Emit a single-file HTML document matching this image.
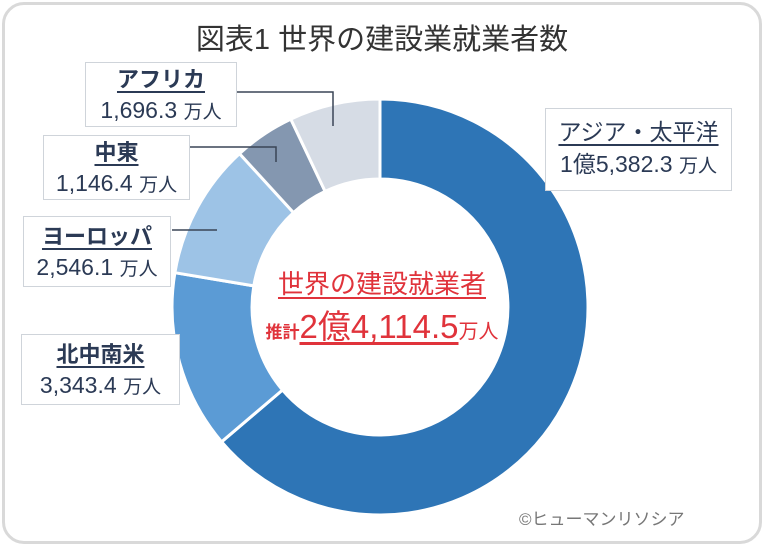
<!DOCTYPE html>
<html><head><meta charset="utf-8"><style>
html,body{margin:0;padding:0;background:#fff;}
body{width:764px;height:545px;overflow:hidden;position:relative;font-family:"Liberation Sans","Noto Sans CJK JP",sans-serif;}
.frame{position:absolute;left:2px;top:2px;width:754px;height:536px;border:3px solid #d9d9d9;border-radius:22px;}
.title{position:absolute;left:0;width:764px;top:16px;text-align:center;font-size:29px;color:#333;}
.box{position:absolute;background:#fff;border:1.5px solid #cfd4da;color:#2b3a55;text-align:center;box-sizing:border-box;}
.box .n{font-size:22px;font-weight:bold;text-decoration:underline;text-underline-offset:4px;line-height:30px;margin-top:2px;color:#2b3a55;}
.box .v{font-size:23px;line-height:30px;color:#2b3a55;}
.box .v span{font-size:19px;}
.ct{position:absolute;left:0;width:764px;text-align:center;color:#e0333b;}
.copy{position:absolute;left:519px;top:505px;font-size:17px;color:#777;}
</style></head><body>
<div class="frame"></div>
<div class="title">図表1 世界の建設業就業者数</div>
<svg width="764" height="545" style="position:absolute;left:0;top:0">
<g stroke="#fff" stroke-width="3" stroke-linejoin="round">
<path d="M380,99 A208,208 0 1 1 221.6,441.8 L282.5,390 A128,128 0 1 0 380,179 Z" fill="#2e75b6"/>
<path d="M221.6,441.8 A208,208 0 0 1 174.9,272.7 L253.8,285.9 A128,128 0 0 0 282.5,390 Z" fill="#5b9bd5"/>
<path d="M174.9,272.7 A208,208 0 0 1 239.5,153.6 L293.5,212.6 A128,128 0 0 0 253.8,285.9 Z" fill="#9dc3e6"/>
<path d="M239.5,153.6 A208,208 0 0 1 290.8,119.1 L325.1,191.4 A128,128 0 0 0 293.5,212.6 Z" fill="#8497b0"/>
<path d="M290.8,119.1 A208,208 0 0 1 380,99 L380,179 A128,128 0 0 0 325.1,191.4 Z" fill="#d6dce5"/>
</g>
<g stroke="#3a4556" stroke-width="1.5" fill="none">
<polyline points="237,92 333,92 333,126"/>
<polyline points="190,147 276,147 276,162"/>
<line x1="172" y1="230" x2="217" y2="230"/>
</g>
</svg>
<div class="box" style="left:85px;top:62px;width:152px;height:65px"><div class="n">アフリカ</div><div class="v">1,696.3 <span>万人</span></div></div>
<div class="box" style="left:43px;top:135px;width:147px;height:65px"><div class="n">中東</div><div class="v">1,146.4 <span>万人</span></div></div>
<div class="box" style="left:23px;top:216px;width:148px;height:71px"><div class="n" style="margin-top:5px">ヨーロッパ</div><div class="v">2,546.1 <span>万人</span></div></div>
<div class="box" style="left:21px;top:334px;width:159px;height:71px"><div class="n" style="margin-top:5px">北中南米</div><div class="v">3,343.4 <span>万人</span></div></div>
<div class="box" style="left:545px;top:108px;width:187px;height:83px"><div class="n" style="margin-top:8px;font-weight:normal;font-size:23px">アジア・太平洋</div><div class="v" style="margin-top:2px">1億5,382.3 <span>万人</span></div></div>
<div class="ct" style="top:264px;font-size:26px;"><span style="text-decoration:underline;text-underline-offset:4px;">世界の建設就業者</span></div>
<div class="ct" style="top:306px;font-size:33px;line-height:42px;"><span style="font-size:17px;font-weight:bold">推計</span><span style="text-decoration:underline;text-underline-offset:4px;">2億4,114.5</span><span style="font-size:20px">万人</span></div>
<div class="copy">©ヒューマンリソシア</div>
</body></html>
